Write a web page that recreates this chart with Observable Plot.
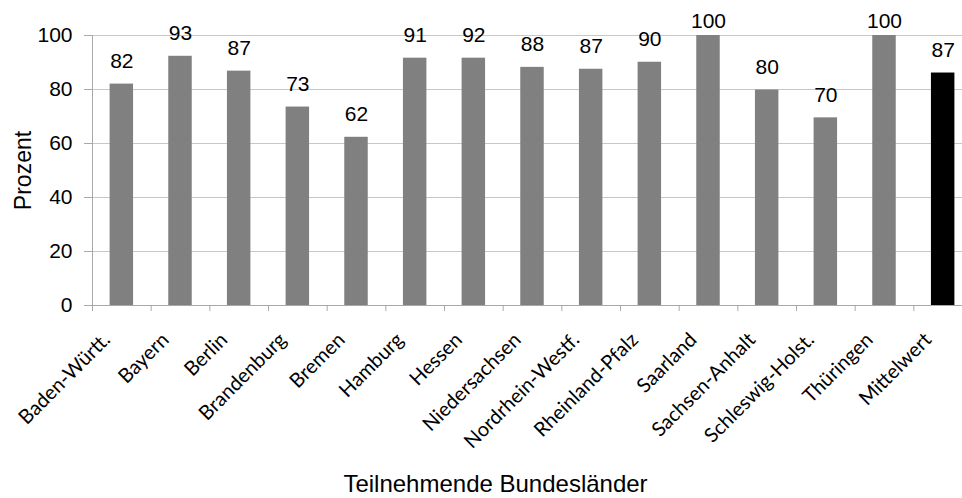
<!DOCTYPE html>
<html>
<head>
<meta charset="utf-8">
<script src="https://cdn.jsdelivr.net/npm/d3@7"></script>
<script src="https://cdn.jsdelivr.net/npm/@observablehq/plot@0.6"></script>
<style>
  html, body { margin: 0; padding: 0; background: #fff; }
  #chart svg { display: block; }
</style>
</head>
<body>
<div id="chart"></div>
<script>
// Data
const categories = ["Baden-Württ.", "Bayern", "Berlin", "Brandenburg", "Bremen", "Hamburg", "Hessen",
  "Niedersachsen", "Nordrhein-Westf.", "Rheinland-Pfalz", "Saarland", "Sachsen-Anhalt",
  "Schleswig-Holst.", "Thüringen", "Mittelwert"];
const values = [82, 92.3, 86.8, 73.5, 62.3, 91.6, 91.6, 88.2, 87.5, 90.1, 100, 79.8, 69.5, 100, 86.1];
const valueLabels = ["82", "93", "87", "73", "62", "91", "92", "88", "87", "90", "100", "80", "70", "100", "87"];
const yTicks = [0, 20, 40, 60, 80, 100];
const yTitle = "Prozent";
const xTitle = "Teilnehmende Bundesländer";
const meanCategory = "Mittelwert";

const data = categories.map((c, i) => ({category: c, value: values[i], label: valueLabels[i]}));

const W = 962, H = 498;
const left = 92, rightEdge = 972;
const step = (rightEdge - left) / categories.length;
const gridColor = "#c8c8c8";
const axisColor = "#a8a8a8";

const chart = Plot.plot({
  width: W,
  height: H,
  marginLeft: left,
  marginRight: 0,
  marginTop: 35,
  marginBottom: 193,
  style: {fontFamily: "'Liberation Sans', Arial, sans-serif", background: "#fff", overflow: "visible"},
  x: {domain: categories, range: [left, rightEdge], paddingInner: 0.6, paddingOuter: 0.3, round: false, axis: null},
  y: {domain: [0, 100], axis: null},
  marks: [
    // gridlines
    Plot.ruleY(yTicks, {stroke: gridColor, strokeWidth: 1}),
    // y tick marks
    Plot.ruleY(yTicks, {stroke: axisColor, insetLeft: -8, insetRight: W - left}),
    // left axis line
    Plot.ruleX([categories[0]], {dx: -step / 2, y1: 0, y2: 100, stroke: axisColor}),
    // x boundary ticks
    Plot.ruleX(categories, {dx: -step / 2, y1: 0, y2: 0, insetBottom: -6, stroke: axisColor}),
    // x axis line
    Plot.ruleY([0], {stroke: axisColor}),
    // bars
    Plot.barY(data, {x: "category", y: "value", fill: d => d.category === meanCategory ? "#000000" : "#808080"}),
    // data labels (labels at the top are kept inside the chart area, as in the source)
    Plot.text(data, {x: "category", y: d => Math.min(d.value, 96.7), text: "label", dy: -16,
      lineAnchor: "bottom", fontSize: 21, fill: "#000"}),
    // y tick labels
    Plot.text(yTicks, {y: d => d, text: d => String(d), frameAnchor: "left", dx: -20,
      textAnchor: "end", lineAnchor: "middle", fontSize: 21, fill: "#000"}),
    // x tick labels
    Plot.text(categories, {x: d => d, y: 0, text: d => d, rotate: -45, textAnchor: "end",
      lineAnchor: "middle", dx: -15, dy: 31, fontSize: 20, fontFamily: "Lato, 'Open Sans', sans-serif", fill: "#000"}),
    // axis titles
    Plot.text([yTitle], {frameAnchor: "left", dx: -69, rotate: -90, text: d => d, textAnchor: "middle",
      fontSize: 23, lineAnchor: "middle", fill: "#000"}),
    Plot.text([xTitle], {frameAnchor: "bottom", dx: -32, dy: 186, text: d => d,
      fontSize: 24, lineAnchor: "bottom", fill: "#000"})
  ]
});

document.getElementById("chart").appendChild(chart);
</script>
</body>
</html>
